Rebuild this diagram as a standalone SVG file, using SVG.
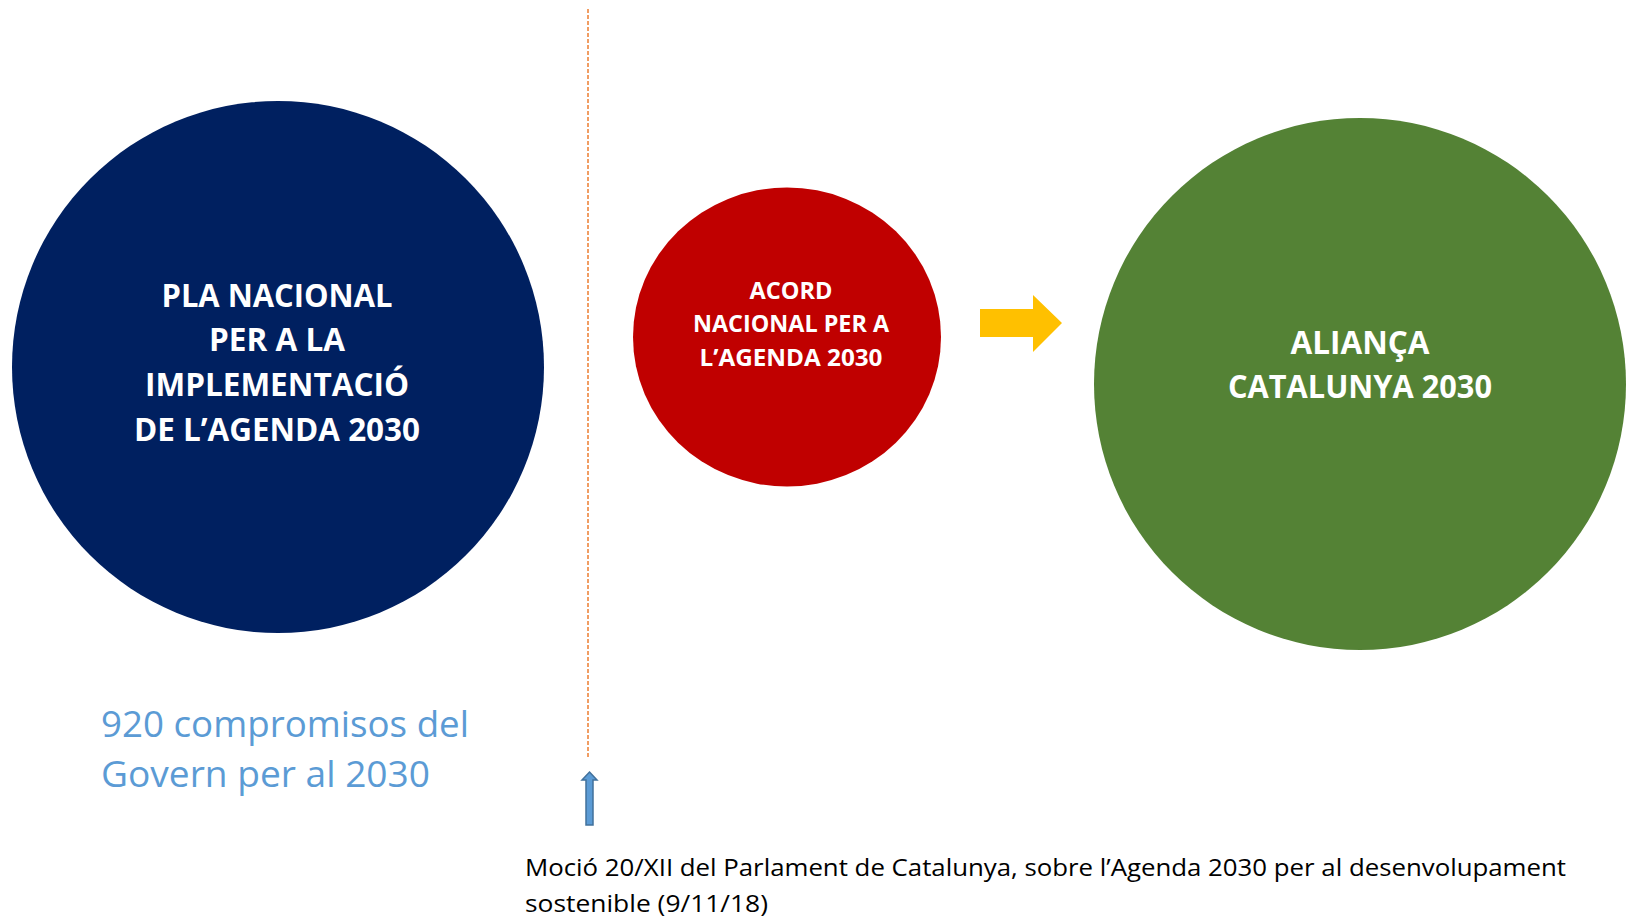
<svg xmlns="http://www.w3.org/2000/svg" width="1628" height="920" viewBox="0 0 1628 920">
  <style>
    .big { font-family: "Open Sans", "Liberation Sans", sans-serif; font-weight: bold; fill: #FFFFFF; text-anchor: middle; }
    .note { font-family: "Open Sans", "Liberation Sans", sans-serif; fill: #5B9BD5; }
    .src { font-family: "Open Sans", "Liberation Sans", sans-serif; fill: #000000; }
  </style>
  <rect width="1628" height="920" fill="#FFFFFF"/>

  <g id="connectors">
    <line x1="588" y1="9" x2="588" y2="758" stroke="#ED7D31" stroke-width="1.5" stroke-dasharray="4 2"/>
    <polygon points="980,309 1033,309 1033,295 1062,323 1033,352 1033,337 980,337" fill="#FFC000"/>
    <polygon points="589.5,772 597,780 593,780 593,825 586,825 586,780 582,780" fill="#5B9BD5" stroke="#41719C" stroke-width="1.5" stroke-linejoin="miter"/>
  </g>

  <g id="node-pla">
    <circle cx="278" cy="367" r="266" fill="#002060"/>
    <text class="big" font-size="32" x="277" y="307" textLength="231" lengthAdjust="spacingAndGlyphs">PLA NACIONAL</text>
    <text class="big" font-size="32" x="277" y="351" textLength="136" lengthAdjust="spacingAndGlyphs">PER A LA</text>
    <text class="big" font-size="32" x="277" y="396" textLength="264" lengthAdjust="spacingAndGlyphs">IMPLEMENTACIÓ</text>
    <text class="big" font-size="32" x="277" y="441" textLength="286" lengthAdjust="spacingAndGlyphs">DE L’AGENDA 2030</text>
  </g>

  <g id="node-acord">
    <ellipse cx="787" cy="337" rx="154" ry="149.5" fill="#C00000"/>
    <text class="big" font-size="22.5" x="791" y="299" textLength="83" lengthAdjust="spacingAndGlyphs">ACORD</text>
    <text class="big" font-size="22.5" x="791" y="332" textLength="196" lengthAdjust="spacingAndGlyphs">NACIONAL PER A</text>
    <text class="big" font-size="22.5" x="791" y="366" textLength="183" lengthAdjust="spacingAndGlyphs">L’AGENDA 2030</text>
  </g>

  <g id="node-alianca">
    <circle cx="1360" cy="384" r="266" fill="#548235"/>
    <text class="big" font-size="32" x="1360" y="354" textLength="139" lengthAdjust="spacingAndGlyphs">ALIANÇA</text>
    <text class="big" font-size="32" x="1360" y="398" textLength="264" lengthAdjust="spacingAndGlyphs">CATALUNYA 2030</text>
  </g>

  <g id="label-compromisos">
    <text class="note" font-size="37" x="101" y="737" textLength="368" lengthAdjust="spacingAndGlyphs">920 compromisos del</text>
    <text class="note" font-size="37" x="101" y="787" textLength="329" lengthAdjust="spacingAndGlyphs">Govern per al 2030</text>
  </g>

  <g id="label-mocio">
    <text class="src" font-size="24" x="525" y="876" textLength="1041" lengthAdjust="spacingAndGlyphs">Moció 20/XII del Parlament de Catalunya, sobre l’Agenda 2030 per al desenvolupament</text>
    <text class="src" font-size="24" x="525" y="912" textLength="243" lengthAdjust="spacingAndGlyphs">sostenible (9/11/18)</text>
  </g>
</svg>
